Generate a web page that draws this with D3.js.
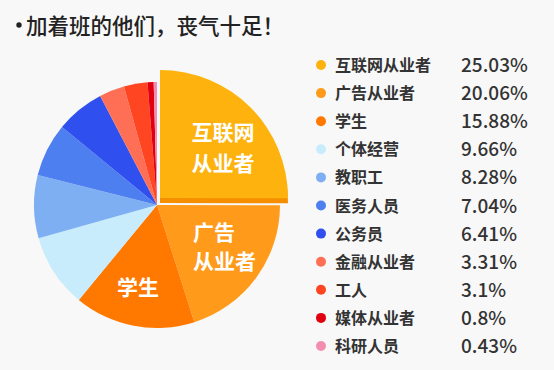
<!DOCTYPE html>
<html>
<head>
<meta charset="utf-8">
<script src="https://cdn.jsdelivr.net/npm/d3@7"></script>
<style>
  body { margin: 0; background: #f8f8f8; }
  text { font-family: "Noto Sans CJK SC", "Noto Sans", sans-serif; }
</style>
</head>
<body>
<script>
// data
var categories = ["互联网从业者", "广告从业者", "学生", "个体经营", "教职工", "医务人员",
                  "公务员", "金融从业者", "工人", "媒体从业者", "科研人员"]
var shares = [25.03, 20.06, 15.88, 9.66, 8.28, 7.04, 6.41, 3.31, 3.1, 0.8, 0.43]
var shareLabels = ["25.03%", "20.06%", "15.88%", "9.66%", "8.28%", "7.04%",
                   "6.41%", "3.31%", "3.1%", "0.8%", "0.43%"]
var colors = ["#fdb20e", "#ff9a1a", "#ff7800", "#c8ecfb", "#7eaff2", "#4e7ff0",
              "#2f50ef", "#ff6f55", "#ff4522", "#e0000f", "#f28fb0"]
// labels written inside the pie (lines)
var sliceLabels = {0: ["互联网", "从业者"], 1: ["广告", "从业者"], 2: ["学生"]}

var screen = {width: 554, height: 370}

var svg = d3.select("body")
  .append("svg")
  .attr("width", screen.width)
  .attr("height", screen.height)

svg.append("rect")
  .attr("width", screen.width)
  .attr("height", screen.height)
  .attr("fill", "#f8f8f8")

// title (bullet drawn apart so it sits tight)
svg.append("circle")
  .attr("cx", 19)
  .attr("cy", 25)
  .attr("r", 2.7)
  .attr("fill", "#222")
svg.append("text")
  .attr("x", 26)
  .attr("y", 34)
  .attr("font-size", 21.5)
  .attr("font-weight", 500)
  .attr("fill", "#222")
  .text("加着班的他们，丧气十足！")

var data = categories.map(function(c, i) {
  return {name: c, value: shares[i], label: shareLabels[i], color: colors[i], i: i}
})

var cx = 157, cy = 205, radius = 123

var pie = d3.pie()
  .value(function(d) { return d.value })
  .sort(null)

var arc = d3.arc().innerRadius(0).outerRadius(radius)
var bigArc = d3.arc().innerRadius(0).outerRadius(radius + 5)

var arcs = pie(data)

var g = svg.append("g")
  .attr("transform", "translate(" + cx + "," + cy + ")")

// the rest of the slices
g.selectAll("path.slice")
  .data(arcs.slice(1))
  .enter()
  .append("path")
  .attr("class", "slice")
  .attr("d", arc)
  .attr("fill", function(d) { return d.data.color })

// the pulled out slice, with a darker edge below it
var first = arcs[0]
var shadowG = g.append("g").attr("transform", "translate(3,-2)")
shadowG.append("path")
  .attr("d", bigArc(first))
  .attr("fill", "#f58f00")
var pulledG = g.append("g").attr("transform", "translate(3,-7)")
pulledG.append("path")
  .attr("d", bigArc(first))
  .attr("fill", first.data.color)

// labels inside the slices
var labelPos = {0: [66, -65, "middle"], 1: [36, 35, "start"], 2: [-19, 90, "middle"]}
arcs.forEach(function(d) {
  var lines = sliceLabels[d.data.i]
  if (!lines) return
  var p = labelPos[d.data.i]
  var t = g.append("text")
    .attr("x", p[0])
    .attr("y", p[1])
    .attr("text-anchor", p[2])
    .attr("fill", "#fff")
    .attr("font-size", 21)
    .attr("font-weight", "bold")
  lines.forEach(function(line, k) {
    t.append("tspan")
      .attr("x", p[0])
      .attr("dy", k == 0 ? 0 : (d.data.i == 1 ? 29 : 31))
      .text(line)
  })
})

// legend
var rowY = d3.scalePoint()
  .domain(categories)
  .range([65, 346])

var rows = svg.append("g")
  .attr("id", "legend")
  .selectAll("g")
  .data(data)
  .enter()
  .append("g")
  .attr("transform", function(d) { return "translate(0," + rowY(d.name) + ")" })

rows.append("circle")
  .attr("cx", 321)
  .attr("cy", 0)
  .attr("r", 5)
  .attr("fill", function(d) { return d.color })

rows.append("text")
  .attr("x", 335)
  .attr("y", 6)
  .attr("font-size", 16)
  .attr("font-weight", "bold")
  .attr("fill", "#333")
  .text(function(d) { return d.name })

rows.append("text")
  .attr("x", 461)
  .attr("y", 7)
  .attr("font-size", 19)
  .attr("font-weight", 500)
  .attr("fill", "#333")
  .text(function(d) { return d.label })
</script>
</body>
</html>
